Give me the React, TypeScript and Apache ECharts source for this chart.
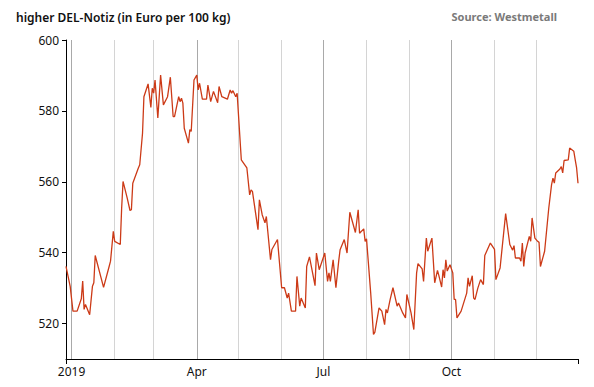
import React, { useEffect, useRef } from "react";
import * as echarts from "echarts";

const dates: string[] = [
  "2018-12-28", "2018-12-31", "2019-01-02", "2019-01-05", "2019-01-08", "2019-01-09", "2019-01-10", "2019-01-11",
  "2019-01-14", "2019-01-16", "2019-01-17", "2019-01-18", "2019-01-24", "2019-01-28", "2019-01-29", "2019-01-31",
  "2019-02-01", "2019-02-05", "2019-02-06", "2019-02-07", "2019-02-10", "2019-02-12", "2019-02-13", "2019-02-14",
  "2019-02-18", "2019-02-19", "2019-02-21", "2019-02-22", "2019-02-25", "2019-02-27", "2019-02-28", "2019-03-01",
  "2019-03-02", "2019-03-04", "2019-03-06", "2019-03-08", "2019-03-11", "2019-03-13", "2019-03-15", "2019-03-16",
  "2019-03-19", "2019-03-20", "2019-03-21", "2019-03-22", "2019-03-23", "2019-03-26", "2019-03-27", "2019-03-28",
  "2019-03-30", "2019-04-01", "2019-04-02", "2019-04-03", "2019-04-05", "2019-04-08", "2019-04-09", "2019-04-11",
  "2019-04-13", "2019-04-16", "2019-04-17", "2019-04-19", "2019-04-23", "2019-04-25", "2019-04-26", "2019-04-27",
  "2019-04-29", "2019-04-30", "2019-05-03", "2019-05-07", "2019-05-09", "2019-05-10", "2019-05-11", "2019-05-15",
  "2019-05-16", "2019-05-18", "2019-05-20", "2019-05-21", "2019-05-24", "2019-05-25", "2019-05-29", "2019-06-01",
  "2019-06-03", "2019-06-05", "2019-06-06", "2019-06-08", "2019-06-11", "2019-06-12", "2019-06-14", "2019-06-15",
  "2019-06-18", "2019-06-19", "2019-06-21", "2019-06-25", "2019-06-26", "2019-06-28", "2019-07-02", "2019-07-04",
  "2019-07-05", "2019-07-06", "2019-07-08", "2019-07-10", "2019-07-12", "2019-07-13", "2019-07-16", "2019-07-18",
  "2019-07-20", "2019-07-24", "2019-07-26", "2019-07-27", "2019-07-30", "2019-07-31", "2019-08-01", "2019-08-04",
  "2019-08-06", "2019-08-07", "2019-08-10", "2019-08-12", "2019-08-14", "2019-08-15", "2019-08-16", "2019-08-18",
  "2019-08-20", "2019-08-23", "2019-08-24", "2019-08-27", "2019-08-29", "2019-08-30", "2019-09-02", "2019-09-04",
  "2019-09-06", "2019-09-07", "2019-09-10", "2019-09-11", "2019-09-13", "2019-09-14", "2019-09-17", "2019-09-19",
  "2019-09-21", "2019-09-22", "2019-09-24", "2019-09-25", "2019-09-26", "2019-09-27", "2019-09-28", "2019-09-30",
  "2019-10-02", "2019-10-03", "2019-10-04", "2019-10-05", "2019-10-08", "2019-10-12", "2019-10-13", "2019-10-14",
  "2019-10-16", "2019-10-17", "2019-10-18", "2019-10-20", "2019-10-22", "2019-10-24", "2019-10-25", "2019-10-29",
  "2019-11-01", "2019-11-02", "2019-11-05", "2019-11-09", "2019-11-12", "2019-11-14", "2019-11-15", "2019-11-16",
  "2019-11-19", "2019-11-20", "2019-11-21", "2019-11-22", "2019-11-23", "2019-11-26", "2019-11-27", "2019-11-28",
  "2019-11-30", "2019-12-02", "2019-12-03", "2019-12-04", "2019-12-07", "2019-12-10", "2019-12-12", "2019-12-13",
  "2019-12-14", "2019-12-15", "2019-12-18", "2019-12-19", "2019-12-20", "2019-12-21", "2019-12-24", "2019-12-25",
  "2019-12-28", "2019-12-29", "2019-12-30", "2019-12-31",
];

const prices: number[] = [
  536.1, 530.5, 523.5, 523.5, 527.0, 532.0, 524.0, 525.4,
  522.5, 530.5, 531.5, 539.2, 530.2, 536.1, 537.6, 546.0,
  543.2, 542.3, 552.6, 560.1, 555.4, 551.9, 552.1, 559.6,
  563.9, 564.8, 573.7, 584.0, 587.6, 581.0, 586.4, 585.0,
  588.7, 578.0, 590.1, 581.7, 584.0, 589.5, 578.4, 578.4,
  584.0, 582.6, 583.6, 582.2, 575.1, 570.9, 574.7, 574.2,
  588.7, 590.1, 585.9, 587.8, 583.3, 583.3, 587.3, 582.6,
  585.5, 582.3, 586.9, 584.0, 583.3, 585.9, 585.0, 585.7,
  584.0, 585.0, 566.2, 563.9, 556.3, 557.7, 557.3, 546.5,
  554.9, 550.7, 548.4, 550.2, 538.0, 540.9, 543.7, 530.1,
  530.1, 527.2, 528.6, 523.5, 523.5, 533.3, 524.9, 527.2,
  524.4, 536.1, 538.8, 530.7, 539.9, 535.2, 539.9, 531.9,
  534.3, 531.9, 538.0, 530.1, 537.6, 540.8, 543.7, 539.9,
  551.4, 545.7, 552.1, 545.5, 546.7, 543.2, 543.9, 528.6,
  516.9, 517.6, 524.4, 523.5, 519.7, 524.0, 523.0, 526.8,
  530.1, 524.9, 525.8, 523.0, 521.6, 528.2, 523.0, 518.3,
  534.3, 536.9, 535.4, 531.9, 544.1, 540.4, 544.1, 531.5,
  535.0, 533.5, 530.3, 535.2, 532.9, 538.0, 534.8, 536.6,
  534.3, 526.8, 526.8, 521.6, 523.5, 528.6, 532.9, 530.5,
  533.5, 527.2, 526.8, 530.0, 532.4, 531.0, 539.2, 542.7,
  540.9, 532.4, 535.7, 551.0, 542.3, 540.7, 542.0, 538.5,
  538.5, 537.6, 542.7, 536.1, 539.9, 544.6, 543.2, 549.8,
  544.1, 543.2, 542.9, 536.1, 540.4, 552.6, 559.2, 561.0,
  559.6, 562.5, 563.6, 564.3, 562.5, 566.0, 566.2, 569.5,
  568.6, 566.2, 563.9, 559.6,
];

const monthStarts: string[] = [
  "2019-01-01", "2019-02-01", "2019-03-01", "2019-04-01", "2019-05-01", "2019-06-01",
  "2019-07-01", "2019-08-01", "2019-09-01", "2019-10-01", "2019-11-01", "2019-12-01",
];
const quarterStarts: string[] = ["2019-01-01", "2019-04-01", "2019-07-01", "2019-10-01"];
const quarterLabels: string[] = ["2019", "Apr", "Jul", "Oct"];
const yTicks: number[] = [520, 540, 560, 580, 600];

const titleText = "higher DEL-Notiz (in Euro per 100 kg)";
const sourceText = "Source: Westmetall";

const FONT = "'Noto Sans', 'DejaVu Sans', sans-serif";

export default function App() {
  const ref = useRef<HTMLDivElement>(null);
  useEffect(() => {
    if (!ref.current) return;
    const chart = echarts.init(ref.current, undefined, { renderer: "svg" });
    const ts = dates.map((d) => Date.parse(d));
    const data = ts.map((t, i) => [t, prices[i]]);
    const qTs = quarterStarts.map((d) => Date.parse(d));
    const xmin = ts[0];
    const xmax = ts[ts.length - 1];
    chart.setOption({
      animation: false,
      grid: { left: 66, right: 16, top: 40, bottom: 28, containLabel: false },
      graphic: [
        {
          type: "text",
          left: 16,
          top: 11,
          style: { text: titleText, font: `600 12px ${FONT}`, fill: "#111" },
        },
        {
          type: "text",
          right: 37,
          top: 11,
          style: { text: sourceText, font: `bold 11px ${FONT}`, fill: "#7a7a7a" },
        },
      ],
      xAxis: {
        type: "value",
        min: xmin,
        max: xmax,
        axisLine: { show: true, lineStyle: { color: "#000", width: 1 } },
        axisTick: { show: true, customValues: [xmin, xmax], length: 5, lineStyle: { color: "#000" } },
        axisLabel: {
          customValues: qTs,
          formatter: (v: number) => {
            const i = qTs.indexOf(v);
            return i >= 0 ? quarterLabels[i] : "";
          },
          color: "#111",
          fontSize: 12,
          fontFamily: FONT,
          margin: 6,
        },
        splitLine: { show: false },
      },
      yAxis: {
        type: "value",
        min: 510,
        max: 600,
        axisLine: { show: true, lineStyle: { color: "#000", width: 1 } },
        axisTick: { show: true, customValues: yTicks, length: 4, lineStyle: { color: "#000" } },
        axisLabel: { customValues: yTicks, color: "#111", fontSize: 12, fontFamily: FONT, margin: 7 },
        splitLine: { show: false },
      },
      series: [
        {
          type: "line",
          data,
          showSymbol: false,
          symbol: "none",
          lineStyle: { color: "#cc3a17", width: 1.3 },
          z: 5,
          markLine: {
            silent: true,
            symbol: "none",
            label: { show: false },
            animation: false,
            data: monthStarts.map((d) => ({
              xAxis: Date.parse(d),
              lineStyle: {
                color: quarterStarts.includes(d) ? "#a9a9a9" : "#d4d4d4",
                width: 1,
                type: "solid",
              },
            })),
          },
        },
      ],
    });
    return () => chart.dispose();
  }, []);
  return <div ref={ref} style={{ width: 594, height: 387, margin: -8 }} />;
}
